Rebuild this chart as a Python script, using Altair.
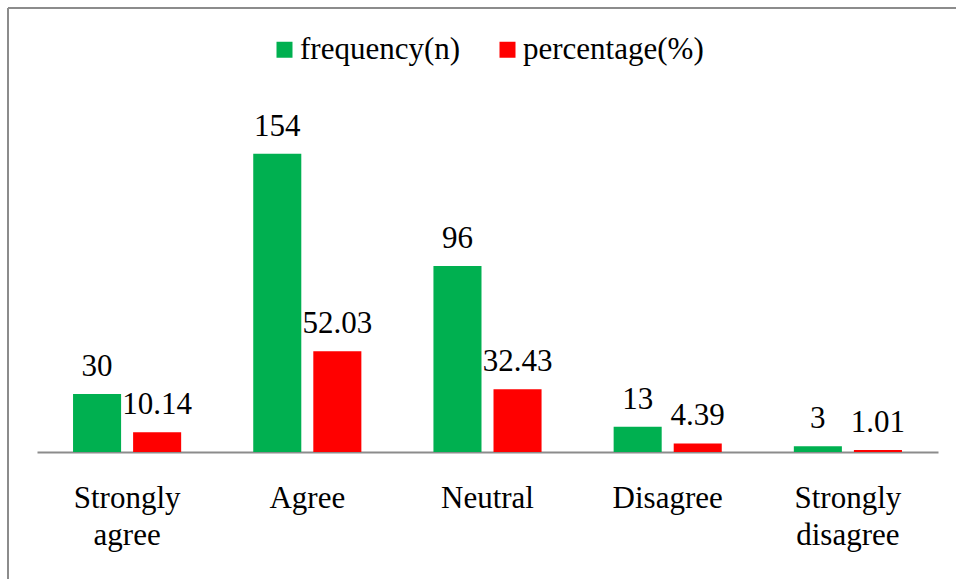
import altair as alt
import pandas as pd

# Survey responses: counts and share of respondents per answer
categories = ["Strongly agree", "Agree", "Neutral", "Disagree", "Strongly disagree"]
frequency = [30, 154, 96, 13, 3]
percentage = [10.14, 52.03, 32.43, 4.39, 1.01]
series = ["frequency(n)", "percentage(%)"]
colors = ["#00B050", "#FF0000"]

rows = []
for c, f, p in zip(categories, frequency, percentage):
    rows.append({"category": c, "series": series[0], "value": f, "label": f"{f:d}"})
    rows.append({"category": c, "series": series[1], "value": p, "label": f"{p:.2f}"})
df = pd.DataFrame(rows)

FONT = "'Liberation Serif', 'DejaVu Serif', serif"
FS = 31

base = alt.Chart(df).encode(
    x=alt.X(
        "category:N",
        sort=categories,
        title=None,
        scale=alt.Scale(paddingInner=0.4, paddingOuter=0.2),
        axis=alt.Axis(
            labelAngle=0,
            labelExpr="split(datum.label, ' ')",
            labelFont=FONT,
            labelFontSize=FS,
            labelColor="#000000",
            labelLineHeight=37,
            labelBaseline="top",
            labelPadding=31,
            ticks=False,
            domainColor="#8c8c8c",
            domainWidth=2,
            labelLimit=300,
        ),
    ),
    xOffset=alt.XOffset("series:N", sort=series, scale=alt.Scale(paddingInner=0.2, paddingOuter=0)),
    y=alt.Y("value:Q", scale=alt.Scale(domain=[0, 160]), axis=None),
)

bars = base.mark_bar().encode(
    color=alt.Color(
        "series:N",
        sort=series,
        scale=alt.Scale(domain=series, range=colors),
        legend=alt.Legend(
            title=None,
            orient="none",
            direction="horizontal",
            legendX=232,
            legendY=-108,
            symbolType="square",
            symbolSize=256,
            symbolStrokeWidth=0,
            labelFont=FONT,
            labelFontSize=FS,
            labelColor="#000000",
            labelOffset=0,
            columnPadding=31,
            labelLimit=400,
            padding=0,
        ),
    )
)

labels = base.mark_text(
    font=FONT, fontSize=FS, color="#000000", baseline="alphabetic", dy=-18
).encode(text="label:N")

# Outer frame lines along the top and left edge
frame_df = pd.DataFrame({"k": [0]})
frame_top = alt.Chart(frame_df).mark_rule(color="#8c8c8c", strokeWidth=2).encode(
    x=alt.value(-29), x2=alt.value(960), y=alt.value(-134)
)
frame_left = alt.Chart(frame_df).mark_rule(color="#8c8c8c", strokeWidth=2).encode(
    x=alt.value(-29), y=alt.value(-134), y2=alt.value(460)
)

chart = (
    alt.layer(bars, labels, frame_top, frame_left)
    .properties(
        width=901,
        height=310,
        autosize=alt.AutoSizeParams(type="none"),
        padding={"left": 37, "top": 142, "right": 18, "bottom": 127},
        background="#ffffff",
    )
    .configure_view(stroke=None)
)

chart.save("out.html", embed_options={"renderer": "svg", "actions": False})
